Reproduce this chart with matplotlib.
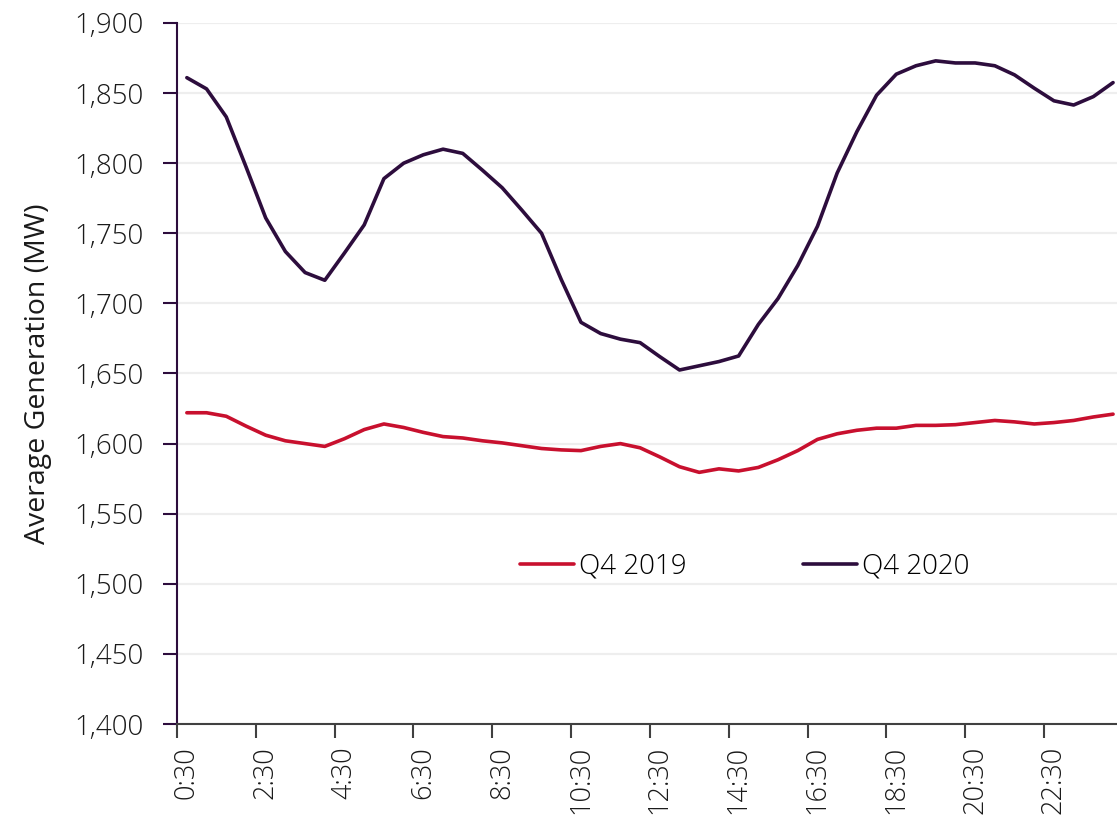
#!/usr/bin/env python3
# -*- coding: utf-8 -*-
"""Average generation by half-hour, Q4 2019 vs Q4 2020."""

import matplotlib
matplotlib.use("Agg")
import matplotlib.pyplot as plt
from matplotlib.ticker import FuncFormatter

# half-hour periods 0:30 .. 24:00
periods = ["%d:%s" % ((m // 60), "30" if m % 60 else "00") for m in range(30, 24 * 60 + 1, 30)]

q4_2019 = [1622, 1622, 1619.5, 1612.5, 1606, 1602, 1600, 1598, 1603.5, 1610,
           1614, 1611.5, 1608, 1605, 1604, 1602, 1600.5, 1598.5, 1596.5, 1595.5,
           1595, 1598, 1600, 1597, 1590.5, 1583.5, 1579.5, 1582, 1580.5, 1583,
           1588.5, 1595, 1603, 1607, 1609.5, 1611, 1611, 1613, 1613, 1613.5,
           1615, 1616.5, 1615.5, 1614, 1615, 1616.5, 1619, 1621]

q4_2020 = [1861, 1853, 1833, 1797.5, 1761, 1737, 1722, 1716.5, 1736, 1756,
           1789, 1800, 1806, 1810, 1807, 1795, 1782.5, 1766.5, 1750, 1717,
           1686.5, 1678.5, 1674.5, 1672, 1662, 1652.5, 1655.5, 1658.5, 1662.5, 1685,
           1703.5, 1727, 1755, 1793, 1822.5, 1848.5, 1863.5, 1869.5, 1873, 1871.5,
           1871.5, 1869.5, 1863, 1853.5, 1844.5, 1841.5, 1847.5, 1857.5]

RED = "#c8102e"
PURPLE = "#2d0d3d"
TEXT = "#1a1a1a"

plt.rcParams["font.family"] = ["Open Sans", "DejaVu Sans"]
plt.rcParams["font.weight"] = "light"

fig = plt.figure(figsize=(11.17, 8.22), dpi=100)
ax = fig.add_axes([177 / 1117, 1 - 724 / 822, 940 / 1117, 701 / 822])

x = list(range(len(periods)))
ax.plot(x, q4_2019, color=RED, lw=2.6, label="Q4 2019", solid_capstyle="round")
ax.plot(x, q4_2020, color=PURPLE, lw=2.6, label="Q4 2020", solid_capstyle="round")

ax.set_ylim(1400, 1900)
ax.set_yticks(range(1400, 1901, 50))
ax.yaxis.set_major_formatter(FuncFormatter(lambda v, p: f"{v:,.0f}"))
ax.grid(axis="y", color="#eeeeee", lw=1.6)
ax.set_axisbelow(True)

# category axis: ticks between categories, labels every 2 hours
ax.set_xlim(-0.5, 47.2)
ax.set_xticks([i - 0.5 for i in range(0, 48, 4)])
ax.set_xticklabels([])
ax.set_xticks(list(range(0, 48, 4)), minor=True)
ax.set_xticklabels(periods[0:48:4], minor=True, rotation=90, fontsize=19.5, color=TEXT)
ax.tick_params(axis="x", which="major", length=10, width=1.5, color="#404040")
ax.tick_params(axis="x", which="minor", length=0, pad=16)
ax.tick_params(axis="y", length=10, width=1.5, color=PURPLE, pad=14, labelsize=20,
               labelcolor=TEXT)

for s in ("top", "right"):
    ax.spines[s].set_visible(False)
ax.spines["left"].set_color(PURPLE)
ax.spines["left"].set_linewidth(1.5)
ax.spines["bottom"].set_color("#404040")
ax.spines["bottom"].set_linewidth(1.5)

ax.set_ylabel("Average Generation (MW)", fontsize=20.5, color=TEXT, labelpad=16)

ax.legend(loc="center", bbox_to_anchor=(0.604, 0.225), ncol=2, frameon=False,
          fontsize=20, handlelength=1.95, handletextpad=0.18, columnspacing=4.2)

fig.savefig("out.png", dpi=100)
